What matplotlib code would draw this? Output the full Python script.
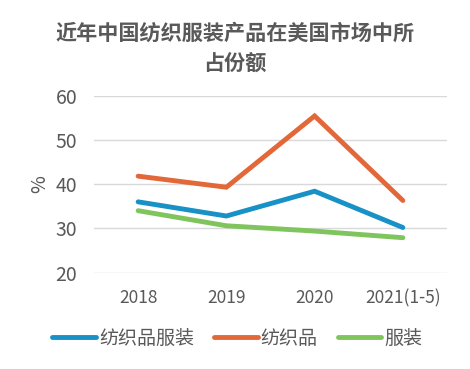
import matplotlib
matplotlib.use('Agg')
import matplotlib.pyplot as plt

plt.rcParams['font.family'] = ['Noto Sans CJK SC', 'DejaVu Sans']

# 数据
years = ['2018', '2019', '2020', '2021(1-5)']
textile_apparel = [36.0, 32.8, 38.4, 30.2]
textile = [41.8, 39.3, 55.4, 36.3]
apparel = [34.0, 30.6, 29.4, 27.9]
series_names = ['纺织品服装', '纺织品', '服装']
colors = ['#1791C6', '#E2683A', '#80C45E']

fig = plt.figure(figsize=(4.7, 3.69), dpi=100)
ax = fig.add_axes([0.2, 0.261, 0.751, 0.48])

x = range(len(years))
for vals, name, c in zip([textile_apparel, textile, apparel], series_names, colors):
    ax.plot(x, vals, color=c, lw=3.5, label=name, solid_capstyle='round', solid_joinstyle='miter')

ax.set_xlim(-0.5, len(years) - 0.5)
ax.set_ylim(20, 60)
ax.set_yticks([20, 30, 40, 50, 60])
ax.set_xticks(list(x))
ax.set_xticklabels(years)
ax.yaxis.grid(True, color='#D9D9D9', lw=1)
ax.set_axisbelow(True)
for s in ax.spines.values():
    s.set_visible(False)
ax.tick_params(length=0, colors='#595959')
ax.tick_params(axis='x', labelsize=12.5, pad=12)
ax.tick_params(axis='y', labelsize=14, pad=12)
ax.set_ylabel('%', color='#595959', fontsize=14, labelpad=4)

fig.suptitle('近年中国纺织服装产品在美国市场中所\n占份额', x=0.5, y=0.938,
             fontsize=15.2, fontweight='semibold', color='#595959', linespacing=1.6)

leg = fig.legend(loc='center', bbox_to_anchor=(0.505, 0.083), ncol=3, frameon=False,
                 fontsize=13.7, handlelength=2.3, handletextpad=0.15, columnspacing=1.05)
for t in leg.get_texts():
    t.set_color('#595959')

fig.savefig('out.png', dpi=100)
